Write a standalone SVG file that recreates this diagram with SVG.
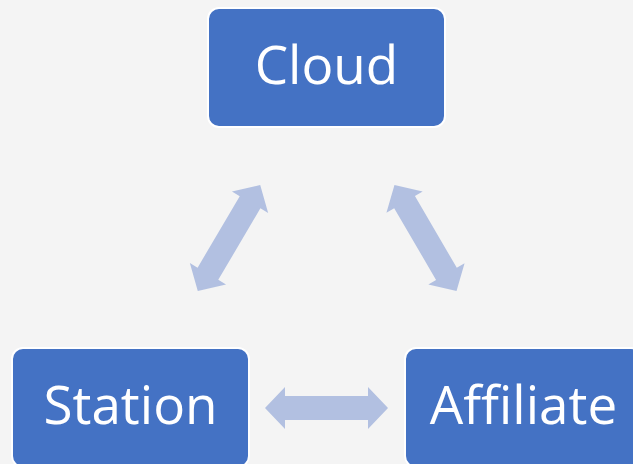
<svg xmlns="http://www.w3.org/2000/svg" xmlns:xlink="http://www.w3.org/1999/xlink" width="633" height="464" viewBox="0 0 633 464">
<style>
.box{fill:#4472c4;stroke:#ffffff;stroke-width:2}
.lbl{fill:#ffffff;font-family:"Open Sans","Noto Sans","Liberation Sans",sans-serif;font-size:53px;text-anchor:middle}
.arr{fill:#b2c0e1}
</style>
<defs>
<path id="dbl" class="arr" d="M-61.5,0 L-41.5,-21 L-41.5,-12 L41.5,-12 L41.5,-21 L61.5,0 L41.5,21 L41.5,12 L-41.5,12 L-41.5,21 Z"/>
</defs>
<rect width="633" height="464" fill="#f4f4f4"/>
<g id="connectors">
<use xlink:href="#dbl" href="#dbl" transform="translate(229,238) rotate(-59.5)"/>
<use xlink:href="#dbl" href="#dbl" transform="translate(425.5,238) rotate(59.7)"/>
<use xlink:href="#dbl" href="#dbl" transform="translate(326.5,408)"/>
</g>
<g id="cloud">
<rect class="box" x="208" y="8" width="237" height="119" rx="11"/>
<text class="lbl" x="326.5" y="84">Cloud</text>
</g>
<g id="station">
<rect class="box" x="12" y="348" width="237" height="119" rx="11"/>
<text class="lbl" x="130.5" y="424">Station</text>
</g>
<g id="affiliate">
<rect class="box" x="405" y="348" width="237" height="119" rx="11"/>
<text class="lbl" x="523.5" y="424">Affiliate</text>
</g>
</svg>
